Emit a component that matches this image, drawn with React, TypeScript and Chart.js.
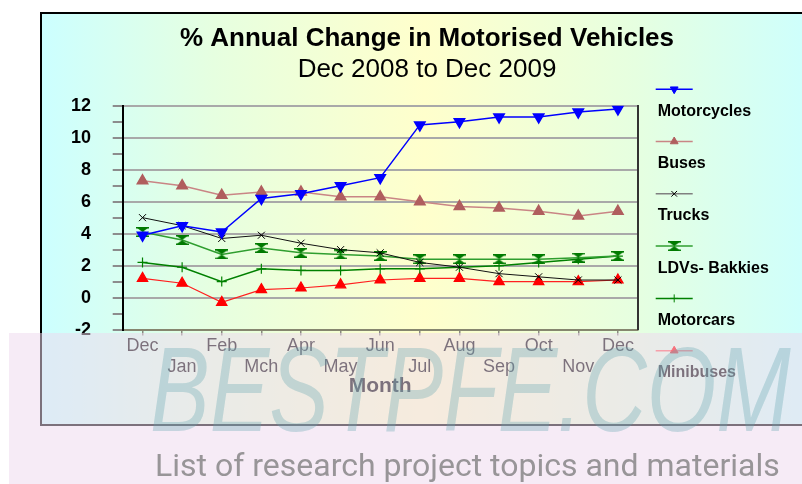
import React, { useEffect, useRef } from 'react';
import { Chart, registerables } from 'chart.js';
import { drawPoint } from 'chart.js/helpers';

Chart.register(...registerables);

const titleText = '% Annual Change in Motorised Vehicles';
const subtitleText = 'Dec 2008 to Dec 2009';
const axisTitleX = 'Month';
const months = ['Dec', 'Jan', 'Feb', 'Mch', 'Apr', 'May', 'Jun', 'Jul', 'Aug', 'Sep', 'Oct', 'Nov', 'Dec'];
const seriesNames = ['Motorcycles', 'Buses', 'Trucks', 'LDVs- Bakkies', 'Motorcars', 'Minibuses'];
const motorcycles = [3.9, 4.5, 4.1, 6.2, 6.5, 7.0, 7.5, 10.8, 11.0, 11.3, 11.3, 11.6, 11.8];
const buses = [7.3, 7.0, 6.4, 6.6, 6.6, 6.3, 6.3, 6.0, 5.7, 5.6, 5.4, 5.1, 5.4];
const trucks = [5.0, 4.5, 3.7, 3.9, 3.4, 3.0, 2.8, 2.2, 1.9, 1.5, 1.3, 1.1, 1.1];
const ldvs = [4.1, 3.6, 2.7, 3.1, 2.8, 2.7, 2.6, 2.4, 2.4, 2.4, 2.4, 2.5, 2.6];
const motorcars = [2.2, 1.9, 1.0, 1.8, 1.7, 1.7, 1.8, 1.8, 1.9, 2.0, 2.2, 2.4, 2.6];
const minibuses = [1.2, 0.9, -0.3, 0.5, 0.6, 0.8, 1.1, 1.2, 1.2, 1.0, 1.0, 1.0, 1.1];
const yMin = -2;
const yMax = 12;
const watermarkBig = 'BESTPFE.COM';
const watermarkSmall = 'List of research project topics and materials';

const FONT = '"Liberation Sans", Arial, sans-serif';

function makeHourglass(color: string) {
  const c = document.createElement('canvas');
  c.width = 13;
  c.height = 10;
  const g = c.getContext('2d')!;
  g.fillStyle = color;
  g.beginPath();
  g.moveTo(0.5, 0.5);
  g.lineTo(12.5, 0.5);
  g.lineTo(6.5, 5);
  g.closePath();
  g.fill();
  g.beginPath();
  g.moveTo(0.5, 9.5);
  g.lineTo(12.5, 9.5);
  g.lineTo(6.5, 5);
  g.closePath();
  g.fill();
  g.fillRect(0, 0, 13, 1.5);
  g.fillRect(0, 8.5, 13, 1.5);
  return c;
}

const sideLegend = {
  id: 'sideLegend',
  afterDraw(chart: any) {
    const { ctx, chartArea } = chart;
    const x0 = chartArea.right + 18;
    chart.data.datasets.forEach((ds: any, i: number) => {
      const y = chartArea.top - 16.5 + i * 52.3;
      ctx.save();
      ctx.strokeStyle = ds.legendLine || ds.borderColor;
      ctx.lineWidth = 1.5;
      ctx.beginPath();
      ctx.moveTo(x0, y);
      ctx.lineTo(x0 + 37, y);
      ctx.stroke();
      ctx.fillStyle = ds.pointBackgroundColor;
      ctx.strokeStyle = ds.pointBorderColor;
      ctx.lineWidth = 1;
      drawPoint(
        ctx,
        { pointStyle: ds.pointStyle, rotation: ds.pointRotation || 0, radius: ds.legendRadius, borderWidth: 1 },
        x0 + 18.5,
        y
      );
      ctx.fillStyle = '#000';
      ctx.font = 'bold 16px ' + FONT;
      ctx.textBaseline = 'middle';
      ctx.textAlign = 'left';
      ctx.fillText(ds.label, x0 + 2, y + 22);
      ctx.restore();
    });
  },
};

export default function App() {
  const ref = useRef<HTMLCanvasElement>(null);

  useEffect(() => {
    if (!ref.current) return;
    Chart.defaults.font.family = FONT;
    const hourglass = makeHourglass('#007a00');

    const chart = new Chart(ref.current, {
      type: 'line',
      data: {
        labels: months,
        datasets: [
          {
            label: seriesNames[0],
            data: motorcycles,
            borderColor: '#0000ff',
            borderWidth: 1.5,
            pointStyle: 'triangle',
            pointRotation: 180,
            pointRadius: 6,
            pointBackgroundColor: '#0000ff',
            pointBorderColor: '#0000ff',
            legendRadius: 4.5,
          } as any,
          {
            label: seriesNames[1],
            data: buses,
            borderColor: '#c98585',
            borderWidth: 1.5,
            pointStyle: 'triangle',
            pointRadius: 6,
            pointBackgroundColor: '#b05e5e',
            pointBorderColor: '#b05e5e',
            legendRadius: 4.5,
          } as any,
          {
            label: seriesNames[2],
            data: trucks,
            borderColor: '#111111',
            borderWidth: 1,
            pointStyle: 'crossRot',
            pointRadius: 5,
            pointBackgroundColor: '#000',
            pointBorderColor: '#000',
            pointBorderWidth: 1,
            legendLine: '#808080',
            legendRadius: 4,
          } as any,
          {
            label: seriesNames[3],
            data: ldvs,
            borderColor: '#2f9e2f',
            borderWidth: 1.5,
            pointStyle: hourglass,
            pointRadius: 6,
            pointBackgroundColor: '#007a00',
            pointBorderColor: '#007a00',
            legendRadius: 4,
          } as any,
          {
            label: seriesNames[4],
            data: motorcars,
            borderColor: '#008000',
            borderWidth: 1.5,
            pointStyle: 'cross',
            pointRadius: 5,
            pointBackgroundColor: '#008000',
            pointBorderColor: '#008000',
            pointBorderWidth: 1.2,
            legendRadius: 4,
          } as any,
          {
            label: seriesNames[5],
            data: minibuses,
            borderColor: '#ff2020',
            borderWidth: 1.2,
            pointStyle: 'triangle',
            pointRadius: 6,
            pointBackgroundColor: '#ff0000',
            pointBorderColor: '#ff0000',
            legendLine: '#ff6060',
            legendRadius: 4.5,
          } as any,
        ],
      },
      options: {
        responsive: false,
        animation: false,
        layout: { padding: { left: 52, right: 0, top: 12, bottom: 85.4 } },
        plugins: {
          legend: { display: false },
          tooltip: { enabled: false },
          title: {
            display: true,
            text: titleText,
            color: '#000',
            font: { size: 26, weight: 'bold', lineHeight: 1.2 },
            padding: { top: 11, bottom: 0 },
          },
          subtitle: {
            display: true,
            text: subtitleText,
            color: '#000',
            font: { size: 26, weight: 'normal', lineHeight: 1.2 },
            padding: { top: 0, bottom: 20.3 },
          },
        },
        scales: {
          x: {
            offset: true,
            grid: {
              display: true,
              drawOnChartArea: false,
              drawTicks: true,
              tickLength: 6,
              color: '#8a8a80',
              tickColor: '#8a8a80',
              lineWidth: 1.5,
            },
            border: { display: true, color: '#86866f', width: 2 },
            ticks: {
              autoSkip: false,
              maxRotation: 0,
              minRotation: 0,
              color: '#000',
              padding: 0,
              font: { size: 18, lineHeight: 1.17 },
              callback: (_v: any, i: number) => (i % 2 === 0 ? months[i] : ['', months[i]]),
            },
            title: {
              display: true,
              text: axisTitleX,
              color: '#000',
              font: { size: 21, weight: 'bold', lineHeight: 1.2 },
              padding: 0,
            },
            afterFit: (s: any) => {
              s.height = 69;
            },
          },
          y: {
            min: yMin,
            max: yMax,
            ticks: {
              stepSize: 1,
              autoSkip: false,
              color: '#000',
              padding: 21.7,
              font: { size: 18, weight: 'bold' },
              callback: (v: any) => (Number(v) % 2 === 0 ? String(v) : ''),
            },
            grid: {
              color: (c: any) => (c.tick && Number(c.tick.value) % 2 === 0 ? '#a9a9a9' : 'rgba(0,0,0,0)'),
              tickColor: '#8c8c8c',
              lineWidth: 2,
              tickLength: 10,
            },
            border: { display: true, color: '#000', width: 2 },
            afterFit: (s: any) => {
              s.width = 70.7;
            },
          },
          y2: {
            position: 'right',
            min: yMin,
            max: yMax,
            ticks: { display: false },
            grid: { display: false },
            border: { display: true, color: '#333', width: 2 },
            afterFit: (s: any) => {
              s.width = 164.3;
            },
          },
        },
      } as any,
      plugins: [sideLegend],
    });
    return () => chart.destroy();
  }, []);

  return (
    <div
      style={{
        position: 'absolute',
        left: 0,
        top: 0,
        width: 802,
        height: 484,
        overflow: 'hidden',
        background: '#fff',
      }}
    >
      <div
        style={{
          position: 'absolute',
          left: 40,
          top: 12,
          width: 780,
          height: 410,
          border: '2px solid #000',
          background: 'linear-gradient(to right, #ccffff 0%, #e6ffe0 22%, #ffffcc 49%, #e6ffe0 76%, #ccffff 100%)',
        }}
      />
      <canvas ref={ref} width={802} height={484} style={{ position: 'absolute', left: 0, top: 0 }} />
      <div
        style={{
          position: 'absolute',
          left: 9,
          top: 333,
          width: 793,
          height: 151,
          background: 'rgba(238,216,238,0.52)',
          overflow: 'hidden',
        }}
      >
        <div
          style={{
            position: 'absolute',
            left: 141,
            top: -4,
            fontFamily: FONT,
            fontSize: 120,
            lineHeight: 1,
            fontStyle: 'italic',
            color: 'rgba(95,165,175,0.32)',
            whiteSpace: 'nowrap',
            transform: 'scaleX(0.745)',
            transformOrigin: 'left top',
          }}
        >
          {watermarkBig}
        </div>
        <div
          style={{
            position: 'absolute',
            left: 146,
            top: 113,
            fontFamily: 'Roboto, "Liberation Sans", sans-serif',
            fontSize: 32,
            color: 'rgba(120,120,120,0.75)',
            whiteSpace: 'nowrap',
          }}
        >
          {watermarkSmall}
        </div>
      </div>
    </div>
  );
}
